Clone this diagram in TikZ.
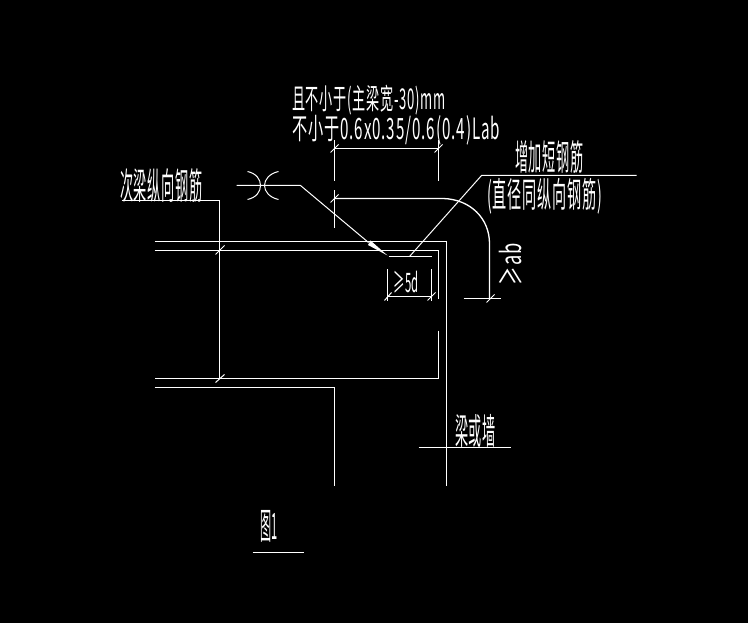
\documentclass[tikz,border=0pt]{standalone}
\usepackage{fontspec}
\usepackage{graphicx}
\setmainfont[LetterSpace=6]{Noto Sans CJK SC}
\newcommand{\fitbox}[3]{\resizebox*{#1pt}{#2pt}{#3}}
\tikzset{
  ln/.style={draw=white,line width=1.3pt,line cap=butt,line join=miter},
  thin line/.style={draw=white,line width=1pt},
  lbl/.style={inner sep=0pt,outer sep=0pt,text=white,anchor=north west}
}
\begin{document}
\begin{tikzpicture}[x=1pt,y=-1pt]
\fill[black] (0,0) rectangle (748,623);
\useasboundingbox (0,0) rectangle (748,623);
\begin{scope}[shift={(0.5,0.5)}]
% concrete and bars
\draw[ln] (154,241) -- (446,241) -- (446,485);
\draw[ln] (154,250) -- (438,250) -- (438,298);
\draw[ln] (438,330) -- (438,378) -- (154,378);
\draw[ln] (154,387) -- (334,387) -- (334,485);
% left leader
\draw[ln] (121,200) -- (219,200) -- (219,378);
\draw[thin line] (215,254) -- (224,245);
\draw[thin line] (215,382) -- (224,374);
% top dimension
\draw[ln] (334,148) -- (438,148);
\draw[ln] (334,140) -- (334,181);
\draw[ln] (438,140) -- (438,181);
\draw[thin line] (330,152) -- (338,144);
\draw[thin line] (434,152) -- (442,144);
% bent bar
\draw[ln] (334,190) -- (334,228);
\draw[thin line] (330,202) -- (338,194);
\draw[ln] (334,198) -- (443,198) .. controls (470,199) and (489,218) .. (489,243) -- (489,298);
\draw[ln] (463,298) -- (500,298);
\draw[thin line] (486,302) -- (494,294);
% weld symbol and leader
\draw[thin line] (236,185) -- (300,185) -- (368,242);
\draw[thin line] (247,171) .. controls (256,173) and (260,179) .. (260,185) .. controls (260,191) and (256,197) .. (247,199);
\draw[thin line] (278,171) .. controls (269,173) and (264,179) .. (264,185) .. controls (264,191) and (269,197) .. (278,199);
\fill[white] (370,240) -- (367.5,244.5) -- (387,255) -- cycle;
\draw[ln] (388,256) -- (431,256);
\draw[thin line] (409,256) -- (481,175) -- (636,175);
% 5d dimension
\draw[thin line] (387,269) -- (387,300);
\draw[thin line] (431,269) -- (431,300);
\draw[thin line] (387,296) -- (431,296);
\draw[thin line] (384,300) -- (391,292);
\draw[thin line] (427,300) -- (435,292);
% remaining underlines
\draw[ln] (418,447) -- (510,447);
\draw[ln] (252,552) -- (303,552);
\end{scope}
% texts
\node[lbl] (t1) at (292,85) {\fitbox{154}{30}{且不小于(主梁宽-30)mm}};
\node[lbl] (t2) at (292,115.5) {\fitbox{208}{30}{不小于0.6x0.35/0.6(0.4)Lab}};
\node[lbl] (t3) at (120,169) {\fitbox{83}{34}{次梁纵向钢筋}};
\node[lbl] (t4) at (515,141) {\fitbox{69}{33}{增加短钢筋}};
\node[lbl] (t5) at (487,178) {\fitbox{115}{36}{(直径同纵向钢筋)}};
\node[lbl] (t6) at (455,414) {\fitbox{41}{33}{梁或墙}};
\node[lbl] (t7) at (260,510) {\fitbox{18}{32}{图1}};
\node[lbl] (t8) at (393,271) {\fitbox{26}{22}{≥5d}};
\node[inner sep=0pt,text=white,rotate=90] (t9) at (511,264) {\fitbox{42}{23}{≥ab}};
\end{tikzpicture}
\end{document}
